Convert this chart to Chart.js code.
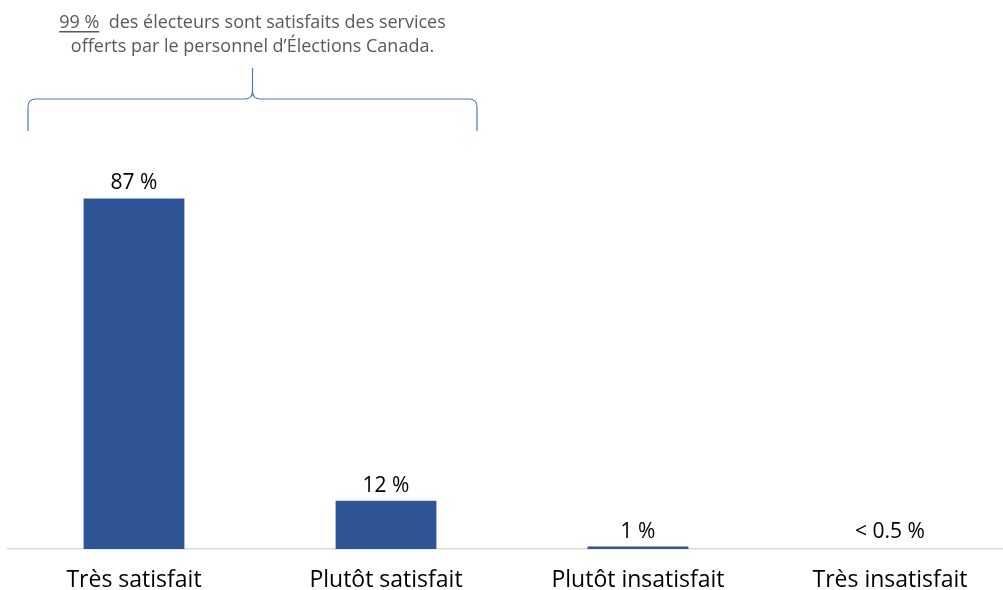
<!DOCTYPE html>
<html>
<head>
<meta charset="utf-8">
<script src="https://cdn.jsdelivr.net/npm/chart.js@4/dist/chart.umd.min.js"></script>
<style>
  html, body { margin: 0; padding: 0; background: #fff; overflow: hidden; }
  #wrap { width: 1016px; height: 590px; }
</style>
</head>
<body>
<div id="wrap"><canvas id="chart"></canvas></div>
<script>
const categories = ['Très satisfait', 'Plutôt satisfait', 'Plutôt insatisfait', 'Très insatisfait'];
const values = [87, 12, 0.6, 0];
const valueLabels = ['87 %', '12 %', '1 %', '< 0.5 %'];
const headline = '99 %';
const noteLine1 = 'des électeurs sont satisfaits des services';
const noteLine2 = 'offerts par le personnel d’Élections Canada.';

const FONT = '"Open Sans", "Liberation Sans", Arial, sans-serif';

// étiquettes de valeur au-dessus des barres
const valueLabelPlugin = {
    id: 'valueLabels',
    afterDatasetsDraw(chart) {
        const ctx = chart.ctx;
        const meta = chart.getDatasetMeta(0);
        const yScale = chart.scales.y;
        ctx.save();
        ctx.font = '21px ' + FONT;
        ctx.fillStyle = '#000';
        ctx.textAlign = 'center';
        ctx.textBaseline = 'alphabetic';
        meta.data.forEach((bar, i) => {
            const top = Math.min(bar.y, yScale.getPixelForValue(0) - 2);
            ctx.fillText(valueLabels[i], bar.x, top - 9);
        });
        ctx.restore();
    }
};

// accolade + note sur les deux premières catégories
const bracePlugin = {
    id: 'brace',
    afterDraw(chart) {
        const ctx = chart.ctx;
        const x = chart.scales.x;
        const left = x.getPixelForValue(0) - 106;
        const right = x.getPixelForValue(1) + 91;
        const mid = (left + right) / 2;
        const yBottom = 131, yBar = 99, yTip = 68, r = 8;

        ctx.save();
        ctx.strokeStyle = '#5677b3';
        ctx.lineWidth = 1.2;
        ctx.beginPath();
        ctx.moveTo(left, yBottom);
        ctx.lineTo(left, yBar + r);
        ctx.quadraticCurveTo(left, yBar, left + r, yBar);
        ctx.lineTo(mid - r, yBar);
        ctx.quadraticCurveTo(mid, yBar, mid, yBar - r);
        ctx.lineTo(mid, yTip);
        ctx.moveTo(mid, yBar - r);
        ctx.quadraticCurveTo(mid, yBar, mid + r, yBar);
        ctx.lineTo(right - r, yBar);
        ctx.quadraticCurveTo(right, yBar, right, yBar + r);
        ctx.lineTo(right, yBottom);
        ctx.stroke();

        ctx.font = '18px ' + FONT;
        ctx.fillStyle = '#595959';
        ctx.textBaseline = 'alphabetic';
        const gap = '  ';
        const wHead = ctx.measureText(headline).width;
        const wGap = ctx.measureText(gap).width;
        const wRest = ctx.measureText(noteLine1).width;
        const total = wHead + wGap + wRest;
        const x0 = mid - total / 2;
        ctx.textAlign = 'left';
        ctx.fillText(headline, x0, 28);
        ctx.fillRect(x0, 31, wHead, 1.5);
        ctx.fillText(noteLine1, x0 + wHead + wGap, 28);
        ctx.textAlign = 'center';
        ctx.fillText(noteLine2, mid, 52);
        ctx.restore();
    }
};

new Chart(document.getElementById('chart'), {
    type: 'bar',
    data: {
        labels: categories,
        datasets: [{
            data: values,
            backgroundColor: '#2f5597',
            barPercentage: 0.4,
            categoryPercentage: 1.0
        }]
    },
    options: {
        responsive: true,
        maintainAspectRatio: false,
        animation: false,
        layout: { padding: { top: 146, left: 8, right: 0, bottom: 0 } },
        plugins: { legend: { display: false }, tooltip: { enabled: false } },
        scales: {
            x: {
                grid: { display: false, drawTicks: false },
                border: { display: true, color: '#d9d9d9', width: 1.5 },
                ticks: { color: '#000', font: { family: FONT, size: 23 }, padding: 18, maxRotation: 0 },
                afterFit(scale) { scale.height = 41; }
            },
            y: {
                display: false,
                min: 0,
                max: 100
            }
        }
    },
    plugins: [valueLabelPlugin, bracePlugin]
});
</script>
</body>
</html>
